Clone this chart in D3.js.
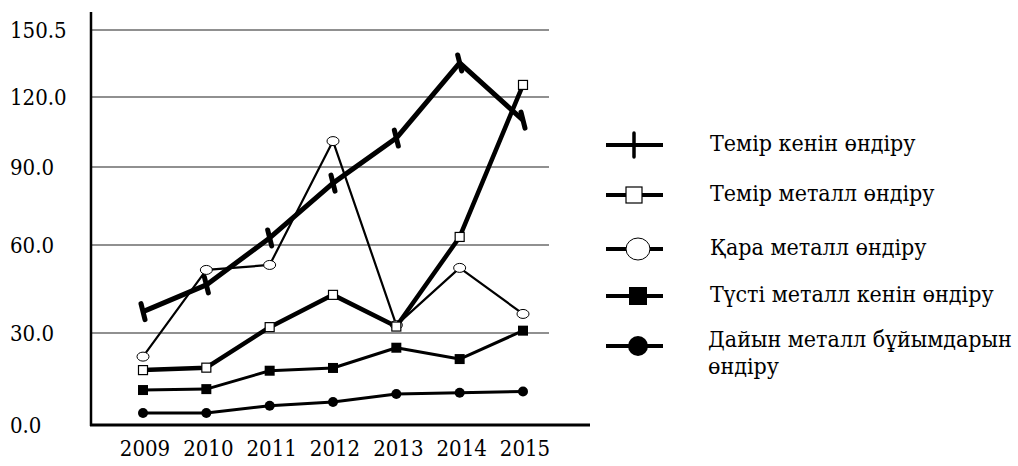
<!DOCTYPE html>
<html><head><meta charset="utf-8">
<script src="https://cdn.jsdelivr.net/npm/d3@7"></script>
<style>body{margin:0;background:#fff}svg{display:block}text{font-family:"DejaVu Serif Condensed","DejaVu Serif",serif;font-stretch:condensed;fill:#000}</style>
</head><body><svg id="c" width="1018" height="466"></svg>
<script>
const years = [2009, 2010, 2011, 2012, 2013, 2014, 2015];
const temirKen = [37.3, 46.4, 62.7, 83.8, 102.4, 135.5, 110.1];
const temirMetall = [17.9, 18.7, 32.0, 43.0, 32.2, 63.1, 125.5];
const karaMetall = [22.3, 51.5, 53.2, 101.1, 32.7, 52.2, 36.5];
const tustiMetall = [11.4, 11.7, 17.7, 18.6, 25.2, 21.5, 30.8];
const dayinMetall = [3.9, 3.9, 6.3, 7.5, 10.1, 10.5, 10.9];
const yTicks = [0, 30, 60, 90, 120, 150.5];
const yTickLabels = ["0.0", "30.0", "60.0", "90.0", "120.0", "150.5"];
const seriesNames = ["Темір кенін өндіру", "Темір металл өндіру", "Қара металл өндіру", "Түсті металл кенін өндіру", "Дайын металл бұйымдарын өндіру"];

const svg = d3.select("#c");
const x = d3.scaleLinear().domain([2009, 2015]).range([143, 523]);
const y = d3.scaleLinear().domain(yTicks).range([425, 333, 245, 167, 97, 30]);

svg.append("g").selectAll("line").data(yTicks.slice(1)).join("line")
  .attr("x1", 91).attr("x2", 549).attr("y1", d => y(d)).attr("y2", d => y(d))
  .attr("stroke", "#222").attr("stroke-width", 1.2);

svg.append("g").selectAll("text").data(yTicks).join("text")
  .attr("x", 10).attr("y", d => y(d)).attr("dy", "0.35em")
  .attr("font-size", 22).text((d, i) => yTickLabels[i]);

svg.append("line").attr("x1", 91).attr("x2", 91).attr("y1", 12).attr("y2", 426).attr("stroke", "#000").attr("stroke-width", 2.5);
svg.append("line").attr("x1", 90).attr("x2", 590).attr("y1", 425).attr("y2", 425).attr("stroke", "#000").attr("stroke-width", 3);

svg.append("g").selectAll("text").data(years).join("text")
  .attr("x", d => x(d) + 2).attr("y", 456).attr("text-anchor", "middle")
  .attr("font-size", 22).text(d => d);

const line = d3.line().x((d, i) => x(years[i])).y(d => y(d));

const series = [
  {vals: karaMetall, w: 2.2, marker: "circle"},
  {vals: dayinMetall, w: 3, marker: "dot"},
  {vals: tustiMetall, w: 3, marker: "fsquare"},
  {vals: temirMetall, w: 4.5, marker: "osquare"},
  {vals: temirKen, w: 5, marker: "tick"}
];

function drawMarker(g, marker, cx, cy, legend) {
  if (marker === "circle") {
    g.append("ellipse").attr("cx", cx).attr("cy", cy).attr("rx", legend ? 12 : 6).attr("ry", legend ? 11 : 4.5)
      .attr("fill", "#fff").attr("stroke", "#000").attr("stroke-width", 1);
  } else if (marker === "dot") {
    g.append("circle").attr("cx", cx).attr("cy", cy).attr("r", legend ? 10 : 5).attr("fill", "#000");
  } else if (marker === "fsquare") {
    const a = legend ? 18 : 10;
    g.append("rect").attr("x", cx - a / 2).attr("y", cy - a / 2).attr("width", a).attr("height", a).attr("fill", "#000");
  } else if (marker === "osquare") {
    const a = legend ? 16 : 9;
    g.append("rect").attr("x", cx - a / 2).attr("y", cy - a / 2).attr("width", a).attr("height", a)
      .attr("fill", "#fff").attr("stroke", "#000").attr("stroke-width", 1.2);
  } else if (marker === "tick") {
    const h = legend ? 12 : 8;
    g.append("line").attr("x1", cx - (legend ? 0 : 2)).attr("x2", cx + (legend ? 0 : 2)).attr("y1", cy - h).attr("y2", cy + h)
      .attr("stroke", "#000").attr("stroke-width", legend ? 3.5 : 5).attr("stroke-linecap", "round");
  }
}

series.forEach(s => {
  const g = svg.append("g");
  g.append("path").datum(s.vals).attr("d", line).attr("fill", "none")
    .attr("stroke", "#000").attr("stroke-width", s.w).attr("stroke-linejoin", "round");
  s.vals.forEach((v, i) => drawMarker(g, s.marker, x(years[i]), y(v), false));
});

const legendMarkers = ["tick", "osquare", "circle", "fsquare", "dot"];
const legendY = [145, 195, 249, 296, 346];
const lg = svg.append("g");
seriesNames.forEach((name, i) => {
  const cy = legendY[i];
  lg.append("line").attr("x1", 606).attr("x2", 663).attr("y1", cy).attr("y2", cy).attr("stroke", "#000").attr("stroke-width", 4);
  drawMarker(lg, legendMarkers[i], 634 + (i > 1 ? 4 : 0), cy, true);
  if (i === 4) {
    const t = lg.append("text").attr("x", 708).attr("y", cy - 7).attr("font-size", 23);
    t.append("tspan").attr("x", 708).attr("dy", "0.35em").text("Дайын металл бұйымдарын");
    t.append("tspan").attr("x", 708).attr("dy", 27).text("өндіру");
  } else {
    lg.append("text").attr("x", 710).attr("y", cy - 2).attr("dy", "0.35em").attr("font-size", 23).text(name);
  }
});
</script></body></html>
